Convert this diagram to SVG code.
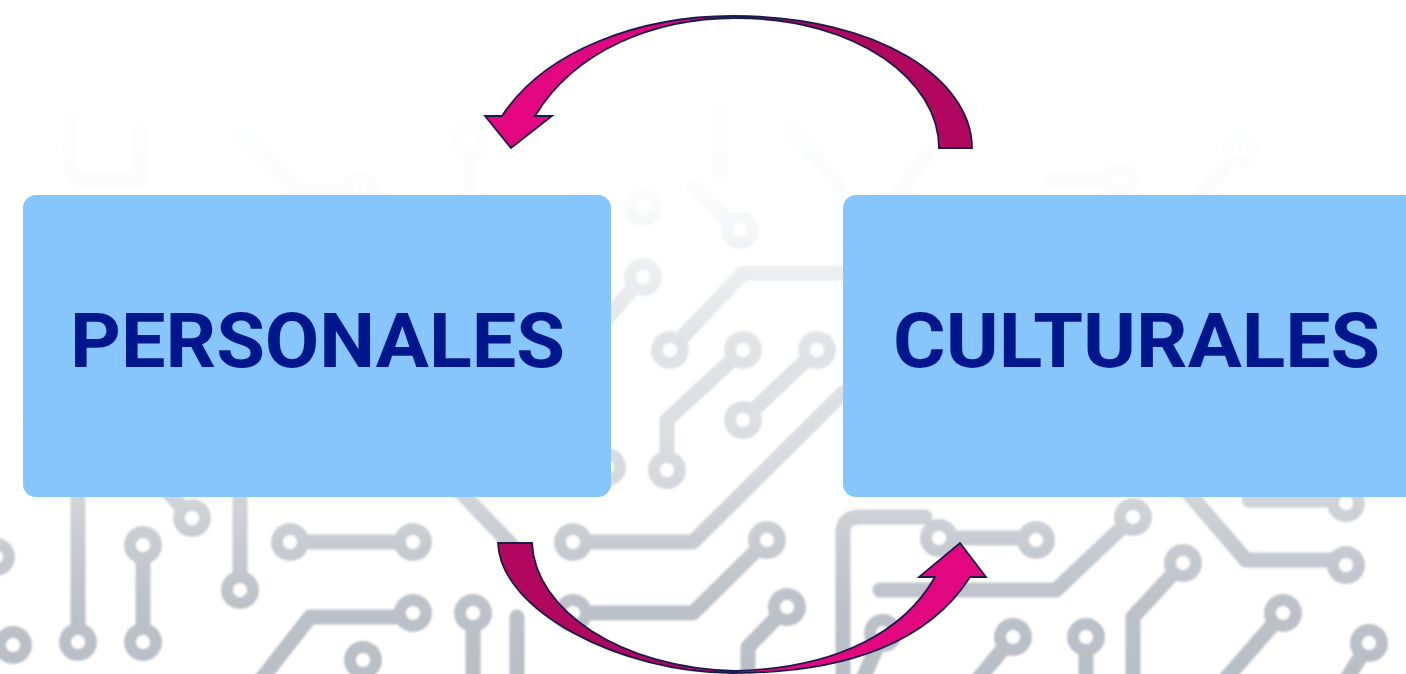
<svg xmlns="http://www.w3.org/2000/svg" xmlns:xlink="http://www.w3.org/1999/xlink" width="1406" height="674" viewBox="0 0 1406 674">
<style>
.trace{fill:none;stroke:#b9bfc6;stroke-width:15;stroke-linecap:round;stroke-linejoin:round}
.box{fill:#86c6fd}
.label{font-family:Roboto,"Liberation Sans",Arial,sans-serif;font-weight:700;font-size:76px;fill:#00168c}
.arrow{stroke:#1b1a4d;stroke-width:1.8;stroke-linejoin:miter}
</style>
<defs>
<g id="pad"><circle r="19" fill="#b9bfc6"/><circle r="7" fill="#ffffff"/></g>
<filter id="soft" x="-5%" y="-5%" width="110%" height="110%"><feGaussianBlur stdDeviation="1.3"/></filter>
<linearGradient id="fade" x1="0" y1="0" x2="0" y2="674" gradientUnits="userSpaceOnUse">
<stop offset="0" stop-color="#fff" stop-opacity="0.99"/>
<stop offset="0.29" stop-color="#fff" stop-opacity="0.95"/>
<stop offset="0.4" stop-color="#fff" stop-opacity="0.74"/>
<stop offset="0.5" stop-color="#fff" stop-opacity="0.58"/>
<stop offset="0.62" stop-color="#fff" stop-opacity="0.5"/>
<stop offset="0.7" stop-color="#fff" stop-opacity="0.42"/>
<stop offset="0.8" stop-color="#fff" stop-opacity="0.22"/>
<stop offset="0.9" stop-color="#fff" stop-opacity="0.05"/>
<stop offset="1" stop-color="#fff" stop-opacity="0"/>
</linearGradient>
<linearGradient id="gTop" x1="700" y1="0" x2="770" y2="0" gradientUnits="userSpaceOnUse">
<stop offset="0" stop-color="#e2077f"/>
<stop offset="0.5" stop-color="#e2077f"/>
<stop offset="0.5" stop-color="#b2075f"/>
<stop offset="1" stop-color="#b2075f"/>
</linearGradient>
<linearGradient id="gBot" x1="700" y1="0" x2="780" y2="0" gradientUnits="userSpaceOnUse">
<stop offset="0" stop-color="#b2075f"/>
<stop offset="0.5" stop-color="#b2075f"/>
<stop offset="0.5" stop-color="#e2077f"/>
<stop offset="1" stop-color="#e2077f"/>
</linearGradient>
</defs>
<rect width="1406" height="674" fill="#ffffff"/>
<g id="background" filter="url(#soft)">
<path class="trace" d="M78,470 V642"/>
<path class="trace" d="M143,545 V642"/>
<path class="trace" d="M192,518 L168,492"/>
<path class="trace" d="M240,470 V590"/>
<path class="trace" d="M290,542 H413"/>
<path class="trace" d="M253,690 L310,617 H413"/>
<path class="trace" d="M473,613 V690"/>
<path class="trace" d="M430,460 L522,556"/>
<path class="trace" d="M517,617 V690"/>
<path class="trace" d="M573,542 H693 L843,393"/>
<path class="trace" d="M573,613 H693 L767,540"/>
<path class="trace" d="M787,607 L748,647 V690"/>
<path class="trace" d="M843,690 V532 Q843,517 860,517 H925"/>
<path class="trace" d="M883,633 L858,690"/>
<path class="trace" d="M939,538 H1036"/>
<path class="trace" d="M880,590 H1056 L1133,517"/>
<path class="trace" d="M1186,490 L1246,560 H1346"/>
<path class="trace" d="M1183,563 L1133,617 V690"/>
<path class="trace" d="M1249,500 H1346"/>
<path class="trace" d="M1013,637 L969,690"/>
<path class="trace" d="M1086,637 V690"/>
<path class="trace" d="M1283,613 L1216,690"/>
<path class="trace" d="M1369,643 L1340,690"/>
<path class="trace" d="M643,277 L605,320"/>
<path class="trace" d="M693,187 L740,230"/>
<path class="trace" d="M670,350 L743,273 H850"/>
<path class="trace" d="M743,350 L667,420 V470"/>
<path class="trace" d="M817,350 L743,420"/>
<path class="trace" d="M70,120 V165 Q70,180 85,180 H140 V130"/>
<path class="trace" d="M240,135 L300,190 H360"/>
<path class="trace" d="M470,140 V190"/>
<path class="trace" d="M720,110 V175"/>
<path class="trace" d="M790,130 L840,185"/>
<path class="trace" d="M960,110 L900,190"/>
<path class="trace" d="M1050,180 L1120,180"/>
<path class="trace" d="M1240,150 L1200,195"/>
<use href="#pad" x="78" y="642"/>
<use href="#pad" x="143" y="545"/>
<use href="#pad" x="143" y="642"/>
<use href="#pad" x="192" y="518"/>
<use href="#pad" x="240" y="590"/>
<use href="#pad" x="290" y="542"/>
<use href="#pad" x="413" y="542"/>
<use href="#pad" x="413" y="613"/>
<use href="#pad" x="363" y="660"/>
<use href="#pad" x="473" y="613"/>
<use href="#pad" x="13" y="645"/>
<use href="#pad" x="-4" y="557"/>
<use href="#pad" x="573" y="542"/>
<use href="#pad" x="573" y="613"/>
<use href="#pad" x="767" y="540"/>
<use href="#pad" x="787" y="607"/>
<use href="#pad" x="883" y="633"/>
<use href="#pad" x="939" y="538"/>
<use href="#pad" x="1036" y="540"/>
<use href="#pad" x="1133" y="517"/>
<use href="#pad" x="1346" y="565"/>
<use href="#pad" x="1183" y="563"/>
<use href="#pad" x="1346" y="503"/>
<use href="#pad" x="1013" y="637"/>
<use href="#pad" x="1086" y="637"/>
<use href="#pad" x="1283" y="613"/>
<use href="#pad" x="1369" y="643"/>
<use href="#pad" x="643" y="207"/>
<use href="#pad" x="643" y="277"/>
<use href="#pad" x="740" y="230"/>
<use href="#pad" x="670" y="350"/>
<use href="#pad" x="743" y="350"/>
<use href="#pad" x="667" y="470"/>
<use href="#pad" x="817" y="350"/>
<use href="#pad" x="743" y="420"/>
<use href="#pad" x="607" y="467"/>
<use href="#pad" x="470" y="140"/>
<use href="#pad" x="360" y="190"/>
<use href="#pad" x="960" y="110"/>
<use href="#pad" x="1120" y="180"/>
<use href="#pad" x="1240" y="150"/>
</g>
<rect id="fade-overlay" width="1406" height="674" fill="url(#fade)"/>
<g id="node-personales">
<rect class="box" x="23" y="195" width="588" height="302" rx="13"/>
<text class="label" x="70" y="367" textLength="495" lengthAdjust="spacingAndGlyphs">PERSONALES</text>
</g>
<g id="node-culturales">
<rect class="box" x="843" y="195" width="600" height="302" rx="13"/>
<text class="label" x="893" y="367" textLength="487" lengthAdjust="spacingAndGlyphs">CULTURALES</text>
</g>
<g id="connectors">
<path id="arrow-top" class="arrow" fill="url(#gTop)" d="M502,116 C545,50 640,16 733,16 C880,16 972,80 972,148 L939,148 C939,82 860,18 735,18 C655,18 575,50 535,116 L552,116 L511,148 L485,116 Z"/>
<path id="arrow-bottom" class="arrow" fill="url(#gBot)" d="M498,543 L532,543 C535,610 620,668 735,671 C840,668 905,630 935,577 L919,577 L960,543 L986,577 L970,577 C930,640 850,673 733,673 C620,673 500,610 498,543 Z"/>
</g>
</svg>
